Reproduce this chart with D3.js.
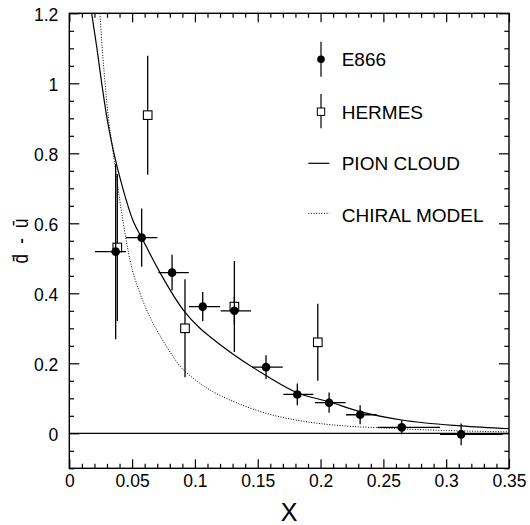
<!DOCTYPE html>
<html>
<head>
<meta charset="utf-8">
<script src="https://cdn.jsdelivr.net/npm/d3@7"></script>
<style>
body { margin: 0; background: #fff; }
text { font-family: "Liberation Sans", Arial, Helvetica, sans-serif; fill: #000; }
</style>
</head>
<body>
<div id="chart"></div>
<script>
width = 530
height = 525

// E866 points (x, value, vertical error, horizontal bin edges)
let e866X = [0.0369, 0.0576, 0.0818, 0.1062, 0.1314, 0.1566, 0.1815, 0.2068, 0.2315, 0.2646, 0.3119]
let e866Y = [0.519, 0.559, 0.459, 0.362, 0.350, 0.189, 0.111, 0.0875, 0.053, 0.017, -0.003]
let e866Err = [0.25, 0.083, 0.051, 0.042, 0.04, 0.034, 0.031, 0.029, 0.027, 0.02, 0.031]
let e866XLo = [0.0205, 0.0451, 0.0709, 0.0953, 0.1205, 0.1455, 0.1704, 0.1956, 0.2203, 0.2452, 0.2951]
let e866XHi = [0.0451, 0.0701, 0.0951, 0.1200, 0.1447, 0.1699, 0.1943, 0.2200, 0.2447, 0.2951, 0.3450]

// HERMES points
let hermesX = [0.0382, 0.0624, 0.0921, 0.1314, 0.1978]
let hermesY = [0.531, 0.909, 0.300, 0.362, 0.260]
let hermesErr = [0.21, 0.17, 0.14, 0.13, 0.11]

// model curves
let pionX = [0.0178, 0.0218, 0.0258, 0.0298, 0.035, 0.043, 0.051, 0.0576, 0.0722, 0.0908, 0.104, 0.112, 0.1566, 0.1815, 0.2068, 0.2315, 0.2646, 0.3119, 0.35]
let pionY = [1.20, 1.105, 1.00, 0.905, 0.809, 0.695, 0.605, 0.559, 0.459, 0.352, 0.300, 0.276, 0.165, 0.116, 0.090, 0.062, 0.038, 0.021, 0.013]
let chiralX = [0.0244, 0.0262, 0.0285, 0.031, 0.0338, 0.0364, 0.043, 0.0483, 0.0563, 0.0616, 0.0696, 0.0776, 0.0881, 0.0987, 0.1147, 0.128, 0.1598, 0.1837, 0.2234, 0.2447, 0.30, 0.35]
let chiralY = [1.20, 1.10, 1.00, 0.905, 0.829, 0.762, 0.600, 0.495, 0.400, 0.352, 0.295, 0.247, 0.192, 0.157, 0.118, 0.095, 0.054, 0.036, 0.020, 0.016, 0.008, 0.004]

let xTickLabels = [0, 0.05, 0.1, 0.15, 0.2, 0.25, 0.3, 0.35]
let yTickLabels = [0, 0.2, 0.4, 0.6, 0.8, 1, 1.2]

let margin = {left: 69.3, right: 21, top: 13.3, bottom: 56.7}
let tickFont = 17.5

let svg = d3.select("#chart")
.append("svg")
.attr("width", width)
.attr("height", height)

let x = d3.scaleLinear().domain([0, 0.35]).range([margin.left, width - margin.right])
let y = d3.scaleLinear().domain([-0.1, 1.2]).range([height - margin.bottom, margin.top])

svg.append("defs").append("clipPath")
	.attr("id", "plotclip")
	.append("rect")
	.attr("x", x(0))
	.attr("y", y(1.2))
	.attr("width", x(0.35) - x(0))
	.attr("height", y(-0.1) - y(1.2))

// axes with minor ticks
let xMinor = d3.range(0, 0.3501, 0.01).filter(v => Math.abs(v / 0.05 - Math.round(v / 0.05)) > 0.01)
let yMinor = d3.range(-0.1, 1.2001, 0.05).filter(v => Math.abs(v / 0.2 - Math.round(v / 0.2)) > 0.01)

function fmt(v){ return Math.abs(v) < 1e-9 ? "0" : d3.format("~g")(v) }

let axesG = svg.append("g")

function styleAxis(g){
	g.select(".domain").remove()
	g.selectAll("line").attr("stroke", "#000").attr("stroke-width", 1.2)
	g.selectAll("text").attr("font-size", tickFont).attr("font-family", "Liberation Sans, Arial, sans-serif")
}

axesG.append("g")
	.attr("transform", "translate(0," + y(-0.1) + ")")
	.call(d3.axisBottom(x).tickValues(xTickLabels).tickSize(-9).tickPadding(6.5).tickFormat(fmt))
	.call(styleAxis)

axesG.append("g")
	.attr("transform", "translate(0," + y(-0.1) + ")")
	.call(d3.axisBottom(x).tickValues(xMinor).tickSize(-4.5).tickFormat(""))
	.call(styleAxis)

axesG.append("g")
	.attr("transform", "translate(0," + y(1.2) + ")")
	.call(d3.axisTop(x).tickValues(xTickLabels).tickSize(-9).tickFormat(""))
	.call(styleAxis)

axesG.append("g")
	.attr("transform", "translate(0," + y(1.2) + ")")
	.call(d3.axisTop(x).tickValues(xMinor).tickSize(-4.5).tickFormat(""))
	.call(styleAxis)

axesG.append("g")
	.attr("transform", "translate(" + x(0) + ",0)")
	.call(d3.axisLeft(y).tickValues(yTickLabels).tickSize(-10).tickPadding(11).tickFormat(fmt))
	.call(styleAxis)
	.selectAll("text").attr("dy", "0.42em")

axesG.append("g")
	.attr("transform", "translate(" + x(0) + ",0)")
	.call(d3.axisLeft(y).tickValues(yMinor).tickSize(-4.7).tickFormat(""))
	.call(styleAxis)

axesG.append("g")
	.attr("transform", "translate(" + x(0.35) + ",0)")
	.call(d3.axisRight(y).tickValues(yTickLabels).tickSize(-10).tickFormat(""))
	.call(styleAxis)

axesG.append("g")
	.attr("transform", "translate(" + x(0.35) + ",0)")
	.call(d3.axisRight(y).tickValues(yMinor).tickSize(-4.7).tickFormat(""))
	.call(styleAxis)

// frame
svg.append("rect")
	.attr("x", x(0))
	.attr("y", y(1.2))
	.attr("width", x(0.35) - x(0))
	.attr("height", y(-0.1) - y(1.2))
	.attr("fill", "none")
	.attr("stroke", "#000")
	.attr("stroke-width", 1.4)

// zero line
svg.append("line")
	.attr("x1", x(0)).attr("x2", x(0.35))
	.attr("y1", y(0)).attr("y2", y(0))
	.attr("stroke", "#000")
	.attr("stroke-width", 1.2)

// curves
let plot = svg.append("g").attr("clip-path", "url(#plotclip)")

let line = d3.line()
	.x(d => x(d[0]))
	.y(d => y(d[1]))
	.curve(d3.curveMonotoneX)

plot.append("path")
	.attr("d", line(d3.zip(pionX, pionY)))
	.attr("fill", "none")
	.attr("stroke", "#000")
	.attr("stroke-width", 1.2)

plot.append("path")
	.attr("d", line(d3.zip(chiralX, chiralY)))
	.attr("fill", "none")
	.attr("stroke", "#000")
	.attr("stroke-width", 1)
	.attr("stroke-dasharray", "1,1.6")

// HERMES
let hermes = d3.range(hermesX.length).map(i => ({x: hermesX[i], y: hermesY[i], e: hermesErr[i]}))
let hg = plot.append("g")
hg.selectAll("line.err")
	.data(hermes)
	.join("line")
	.attr("x1", d => x(d.x)).attr("x2", d => x(d.x))
	.attr("y1", d => y(d.y - d.e)).attr("y2", d => y(d.y + d.e))
	.attr("stroke", "#000")
	.attr("stroke-width", 1.3)
hg.selectAll("rect")
	.data(hermes)
	.join("rect")
	.attr("x", d => x(d.x) - 4.3)
	.attr("y", d => y(d.y) - 4.3)
	.attr("width", 8.6)
	.attr("height", 8.6)
	.attr("fill", "#fff")
	.attr("stroke", "#000")
	.attr("stroke-width", 1.1)

// E866
let e866 = d3.range(e866X.length).map(i => ({x: e866X[i], y: e866Y[i], e: e866Err[i], lo: e866XLo[i], hi: e866XHi[i]}))
let eg = plot.append("g")
eg.selectAll("line.v")
	.data(e866)
	.join("line")
	.attr("class", "v")
	.attr("x1", d => x(d.x)).attr("x2", d => x(d.x))
	.attr("y1", d => y(d.y - d.e)).attr("y2", d => y(d.y + d.e))
	.attr("stroke", "#000")
	.attr("stroke-width", 1.3)
eg.selectAll("line.h")
	.data(e866)
	.join("line")
	.attr("class", "h")
	.attr("x1", d => x(d.lo)).attr("x2", d => x(d.hi))
	.attr("y1", d => y(d.y)).attr("y2", d => y(d.y))
	.attr("stroke", "#000")
	.attr("stroke-width", 1.3)
eg.selectAll("circle")
	.data(e866)
	.join("circle")
	.attr("cx", d => x(d.x))
	.attr("cy", d => y(d.y))
	.attr("r", 4.3)
	.attr("fill", "#000")

// legend
let legend = svg.append("g").attr("font-size", 19)
let lx = 321, tx = 341.7

legend.append("line").attr("x1", lx).attr("x2", lx).attr("y1", 41.7).attr("y2", 76.7).attr("stroke", "#000").attr("stroke-width", 1.2)
legend.append("circle").attr("cx", lx).attr("cy", 59.3).attr("r", 3.8).attr("fill", "#000")
legend.append("text").attr("x", tx).attr("y", 65.5).text("E866")

legend.append("line").attr("x1", lx).attr("x2", lx).attr("y1", 94).attr("y2", 128.3).attr("stroke", "#000").attr("stroke-width", 1.2)
legend.append("rect").attr("x", lx - 3.7).attr("y", 111.7 - 3.7).attr("width", 7.4).attr("height", 7.4).attr("fill", "#fff").attr("stroke", "#000").attr("stroke-width", 1)
legend.append("text").attr("x", tx).attr("y", 118.5).text("HERMES")

legend.append("line").attr("x1", 308.3).attr("x2", 329.3).attr("y1", 163.3).attr("y2", 163.3).attr("stroke", "#000").attr("stroke-width", 1.2)
legend.append("text").attr("x", tx).attr("y", 170).text("PION CLOUD")

legend.append("line").attr("x1", 308.3).attr("x2", 329.3).attr("y1", 213.3).attr("y2", 213.3).attr("stroke", "#000").attr("stroke-width", 1).attr("stroke-dasharray", "1,1.6")
legend.append("text").attr("x", tx).attr("y", 221.7).text("CHIRAL MODEL")

// axis titles
svg.append("text")
	.attr("x", (x(0) + x(0.35)) / 2)
	.attr("y", 520.5)
	.attr("text-anchor", "middle")
	.attr("font-size", 25)
	.text("X")

// the original label glyphs are drawn taller than they are wide
svg.append("text")
	.attr("transform", "translate(28,241) rotate(-90) scale(1,1.35)")
	.attr("text-anchor", "middle")
	.attr("font-size", 17)
	.attr("word-spacing", 5.5)
	.text("d\u0304 - u\u0304")
</script>
</body>
</html>
